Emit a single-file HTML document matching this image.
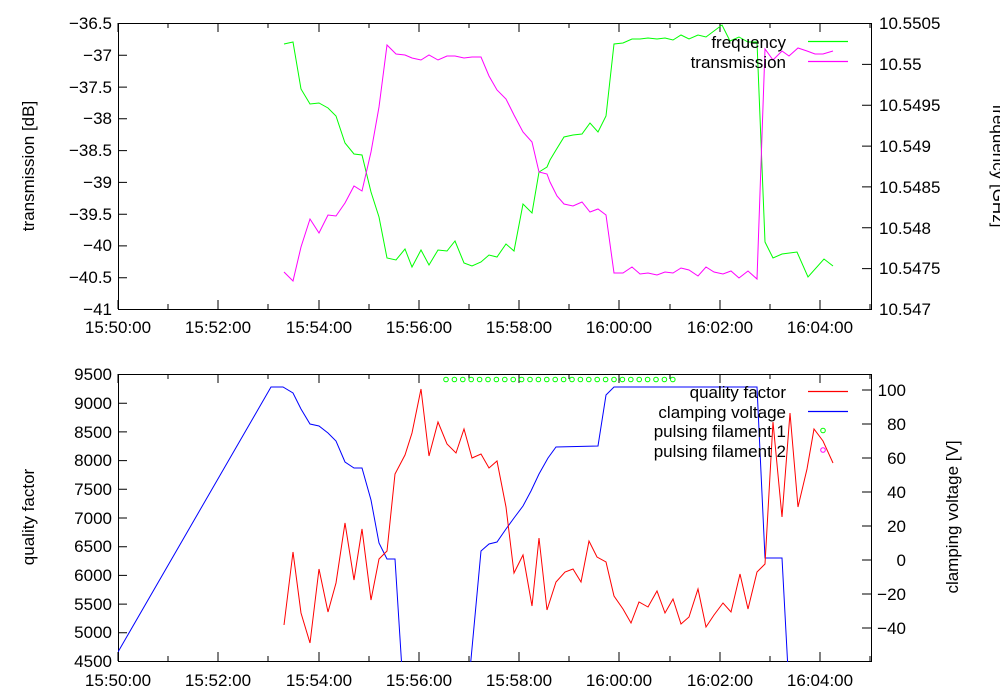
<!DOCTYPE html>
<html><head><meta charset="utf-8"><style>body{margin:0;background:#fff}svg{display:block}text{font-family:"Liberation Sans",sans-serif;font-size:17px;fill:#000}</style></head><body>
<svg width="1000" height="700" viewBox="0 0 1000 700">
<g fill="none" stroke="#000" stroke-width="1">
<rect x="118.5" y="23.5" width="753" height="286"/>
<rect x="118.5" y="374.5" width="753" height="287"/>
<path d="M118 23v9M168 23v5M218 23v9M268 23v5M319 23v9M369 23v5M419 23v9M469 23v5M519 23v9M569 23v5M619 23v9M670 23v5M720 23v9M770 23v5M820 23v9M870 23v5
M118 309v-9M168 309v-5M218 309v-9M268 309v-5M319 309v-9M369 309v-5M419 309v-9M469 309v-5M519 309v-9M569 309v-5M619 309v-9M670 309v-5M720 309v-9M770 309v-5M820 309v-9M870 309v-5
M118 374v9M168 374v5M218 374v9M268 374v5M319 374v9M369 374v5M419 374v9M469 374v5M519 374v9M569 374v5M619 374v9M670 374v5M720 374v9M770 374v5M820 374v9M870 374v5
M118 661v-9M168 661v-5M218 661v-9M268 661v-5M319 661v-9M369 661v-5M419 661v-9M469 661v-5M519 661v-9M569 661v-5M619 661v-9M670 661v-5M720 661v-9M770 661v-5M820 661v-9M870 661v-5
M118 23.5h9M118 55.3h9M118 87.1h9M118 118.8h9M118 150.6h9M118 182.4h9M118 214.2h9M118 245.9h9M118 277.7h9M118 309.5h9
M871 23.5h-9M871 64.4h-9M871 105.2h-9M871 146.1h-9M871 186.9h-9M871 227.8h-9M871 268.6h-9M871 309.5h-9
M118 374.5h9M118 403.2h9M118 431.9h9M118 460.6h9M118 489.3h9M118 518h9M118 546.7h9M118 575.4h9M118 604.1h9M118 632.8h9M118 661.5h9
M871 390h-9M871 424h-9M871 458h-9M871 492h-9M871 526h-9M871 560h-9M871 594h-9M871 628h-9"/>
</g>
<g text-anchor="end">
<text x="112" y="29">−36.5</text><text x="112" y="61">−37</text><text x="112" y="93">−37.5</text><text x="112" y="124">−38</text><text x="112" y="156">−38.5</text><text x="112" y="188">−39</text><text x="112" y="220">−39.5</text><text x="112" y="251">−40</text><text x="112" y="283">−40.5</text><text x="112" y="315">−41</text>
<text x="112" y="380">9500</text><text x="112" y="409">9000</text><text x="112" y="438">8500</text><text x="112" y="466">8000</text><text x="112" y="495">7500</text><text x="112" y="524">7000</text><text x="112" y="552">6500</text><text x="112" y="581">6000</text><text x="112" y="610">5500</text><text x="112" y="638">5000</text><text x="112" y="667">4500</text>
</g>
<g text-anchor="start">
<text x="879" y="29">10.5505</text><text x="879" y="70">10.55</text><text x="879" y="111">10.5495</text><text x="879" y="152">10.549</text><text x="879" y="193">10.5485</text><text x="879" y="234">10.548</text><text x="879" y="274">10.5475</text><text x="879" y="315">10.547</text>
</g>
<g text-anchor="end">
<text x="906" y="396">100</text><text x="906" y="430">80</text><text x="906" y="464">60</text><text x="906" y="498">40</text><text x="906" y="532">20</text><text x="906" y="566">0</text><text x="906" y="600">−20</text><text x="906" y="634">−40</text>
</g>
<g text-anchor="middle">
<text x="118" y="333">15:50:00</text><text x="218" y="333">15:52:00</text><text x="319" y="333">15:54:00</text><text x="419" y="333">15:56:00</text><text x="519" y="333">15:58:00</text><text x="619" y="333">16:00:00</text><text x="720" y="333">16:02:00</text><text x="820" y="333">16:04:00</text>
<text x="118" y="686">15:50:00</text><text x="218" y="686">15:52:00</text><text x="319" y="686">15:54:00</text><text x="419" y="686">15:56:00</text><text x="519" y="686">15:58:00</text><text x="619" y="686">16:00:00</text><text x="720" y="686">16:02:00</text><text x="820" y="686">16:04:00</text>
<text transform="translate(34,166) rotate(-90)">transmission [dB]</text>
<text transform="translate(34,517) rotate(-90)">quality factor</text>
<text transform="translate(958,517) rotate(-90)">clamping voltage [V]</text>
<text transform="translate(993,166) rotate(90)">frequency [GHz]</text>
</g>
<svg x="118" y="23" width="754" height="287" overflow="hidden"><g transform="translate(-118,-23)" fill="none" stroke-width="1">
<polyline stroke="#00ff00" points="284,44 293,42 301,89 310,104 319,103 328,108 336,116 345,143 354,154 362,155 371,192 379,217 387,258 396,260 405,249 412,267 421,250 429,265 438,250 447,251 455,241 464,263 472,266 481,262 489,255 497,257 506,244 514,251 523,204 532,213 539,172 547,167 550,160 556,150 564,137 573,135 582,134 590,123 598,132 606,116 614,44 623,43 632,39 640,39 648,38 657,39 665,38 673,40 681,35 689,39 698,35 706,37 722,25 730,41 739,37 748,42 757,42 765,242 773,258 782,254 797,252 808,277 824,259 833,266"/>
<polyline stroke="#ff00ff" points="284,272 293,281 301,247 310,219 319,233 328,215 336,216 345,203 354,186 362,191 371,152 379,107 387,45 396,54 405,55 412,58 421,60 429,55 438,60 447,56 455,56 464,58 472,57 481,57 489,76 497,90 506,99 514,115 523,132 532,142 539,172 547,174 550,182 557,196 564,204 573,206 582,202 590,212 598,209 606,215 614,273 623,273 632,267 640,274 648,273 657,275 665,272 673,273 681,268 689,270 698,276 706,267 714,272 723,274 731,271 739,278 748,271 757,279 765,49 773,60 782,51 789,56 798,48 807,51 815,54 823,54 833,51"/>
</g></svg>
<svg x="118" y="374" width="754" height="288" overflow="hidden"><g transform="translate(-118,-374)" fill="none" stroke-width="1">
<polyline stroke="#0000ff" points="118,652 271,387 283,387 293,393 301,409 310,424 319,426 328,433 336,441 345,462 354,468 362,468 371,500 379,543 387,559 395,559 402,670"/>
<polyline stroke="#0000ff" points="470,670 481,551 489,544 497,542 506,529 514,518 523,506 531,491 539,474 548,458 556,447 598,446 606,395 614,387 757,387 765,558 782,558 788,670"/>
<polyline stroke="#ff0000" points="284,625 293,552 301,613 310,643 319,569 328,612 336,583 345,523 354,580 362,529 371,600 379,559 387,551 395,474 405,455 412,433 421,389 429,456 438,422 447,444 456,453 464,429 472,458 481,454 489,468 497,461 506,507 514,573 523,555 532,606 539,538 547,610 556,582 565,572 573,569 581,582 589,541 597,557 606,562 614,596 623,609 631,623 639,602 648,607 657,591 665,613 673,599 681,624 689,617 698,589 706,627 714,615 723,603 731,612 740,574 748,609 757,572 765,564 773,422 782,517 790,413 798,507 807,469 814,429 823,441 833,463"/>
<g stroke="#00ff00">
<circle cx="446" cy="379.5" r="2.3"/><circle cx="454.4" cy="379.5" r="2.3"/><circle cx="462.8" cy="379.5" r="2.3"/><circle cx="471.2" cy="379.5" r="2.3"/><circle cx="479.6" cy="379.5" r="2.3"/><circle cx="488" cy="379.5" r="2.3"/><circle cx="496.4" cy="379.5" r="2.3"/><circle cx="504.8" cy="379.5" r="2.3"/><circle cx="513.2" cy="379.5" r="2.3"/><circle cx="521.6" cy="379.5" r="2.3"/><circle cx="530" cy="379.5" r="2.3"/><circle cx="538.4" cy="379.5" r="2.3"/><circle cx="546.8" cy="379.5" r="2.3"/><circle cx="555.2" cy="379.5" r="2.3"/><circle cx="563.6" cy="379.5" r="2.3"/><circle cx="572" cy="379.5" r="2.3"/><circle cx="580.4" cy="379.5" r="2.3"/><circle cx="588.8" cy="379.5" r="2.3"/><circle cx="597.2" cy="379.5" r="2.3"/><circle cx="605.6" cy="379.5" r="2.3"/><circle cx="614" cy="379.5" r="2.3"/><circle cx="622.4" cy="379.5" r="2.3"/><circle cx="630.8" cy="379.5" r="2.3"/><circle cx="639.2" cy="379.5" r="2.3"/><circle cx="647.6" cy="379.5" r="2.3"/><circle cx="656" cy="379.5" r="2.3"/><circle cx="664.4" cy="379.5" r="2.3"/><circle cx="672.8" cy="379.5" r="2.3"/>
</g>
</g></svg>
<g text-anchor="end">
<text x="786" y="48">frequency</text><text x="786" y="68">transmission</text>
<text x="786" y="398">quality factor</text><text x="786" y="418">clamping voltage</text><text x="786" y="437">pulsing filament 1</text><text x="786" y="457">pulsing filament 2</text>
</g>
<line x1="808" y1="41.5" x2="848" y2="41.5" stroke="#00ff00" stroke-width="1.3"/>
<line x1="808" y1="61.5" x2="848" y2="61.5" stroke="#ff00ff" stroke-width="1.3"/>
<line x1="808" y1="391.5" x2="848" y2="391.5" stroke="#ff0000" stroke-width="1.3"/>
<line x1="808" y1="411.5" x2="848" y2="411.5" stroke="#0000ff" stroke-width="1.3"/>
<circle cx="823" cy="430.5" r="2.3" fill="none" stroke="#00ff00"/><circle cx="823" cy="450" r="2.3" fill="none" stroke="#ff00ff"/>
</svg>
</body></html>
